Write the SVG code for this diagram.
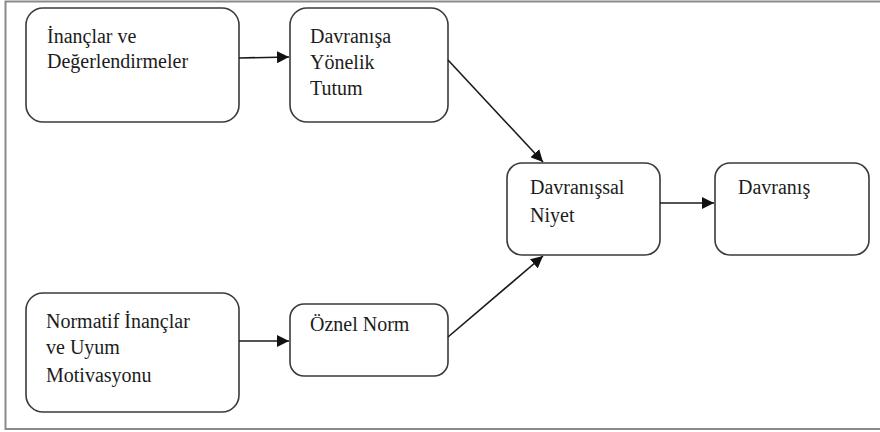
<svg xmlns="http://www.w3.org/2000/svg" width="880" height="432" viewBox="0 0 880 432">
  <defs>
    <marker id="arrow" viewBox="0 0 10 10" refX="10" refY="5" markerWidth="12" markerHeight="12" markerUnits="userSpaceOnUse" orient="auto">
      <path d="M0,0 L10,5 L0,10 Z" fill="#111"/>
    </marker>
    <style>
      .box { fill: #fff; stroke: #3a3a3a; stroke-width: 1.6; }
      .lbl { font-family: "Liberation Serif", "DejaVu Serif", serif; font-size: 20px; fill: #1c1c1c; }
      .conn { stroke: #1a1a1a; stroke-width: 1.6; fill: none; marker-end: url(#arrow); }
    </style>
  </defs>
  <rect x="0" y="0" width="880" height="432" fill="#fff"/>
  <!-- outer frame, open on the right -->
  <path d="M880,1.5 H5.5 V429 H880" fill="none" stroke="#8a8a8a" stroke-width="2"/>

  <g id="inanclar">
    <rect class="box" x="26" y="8" width="213" height="114" rx="17"/>
    <text class="lbl" x="47" y="43">İnançlar ve</text>
    <text class="lbl" x="47" y="68">Değerlendirmeler</text>
  </g>
  <g id="tutum">
    <rect class="box" x="290" y="8" width="158" height="114" rx="17"/>
    <text class="lbl" x="310" y="43">Davranışa</text>
    <text class="lbl" x="310" y="69">Yönelik</text>
    <text class="lbl" x="310" y="95">Tutum</text>
  </g>
  <g id="niyet">
    <rect class="box" x="507" y="163" width="153" height="92" rx="15"/>
    <text class="lbl" x="530" y="194">Davranışsal</text>
    <text class="lbl" x="530" y="222">Niyet</text>
  </g>
  <g id="davranis">
    <rect class="box" x="715" y="163" width="154" height="92" rx="15"/>
    <text class="lbl" x="738" y="194">Davranış</text>
  </g>
  <g id="normatif">
    <rect class="box" x="26" y="293" width="213" height="119" rx="17"/>
    <text class="lbl" x="46" y="328">Normatif İnançlar</text>
    <text class="lbl" x="46" y="354">ve Uyum</text>
    <text class="lbl" x="46" y="382">Motivasyonu</text>
  </g>
  <g id="oznel-norm">
    <rect class="box" x="290" y="304" width="158" height="72" rx="14"/>
    <text class="lbl" x="310" y="331">Öznel Norm</text>
  </g>

  <g id="connectors">
    <line class="conn" x1="239" y1="58" x2="289" y2="57"/>
    <line class="conn" x1="448" y1="60" x2="543" y2="162"/>
    <line class="conn" x1="239" y1="341" x2="289" y2="341"/>
    <line class="conn" x1="448" y1="337" x2="543" y2="256"/>
    <line class="conn" x1="660" y1="203" x2="714" y2="203"/>
  </g>
</svg>
